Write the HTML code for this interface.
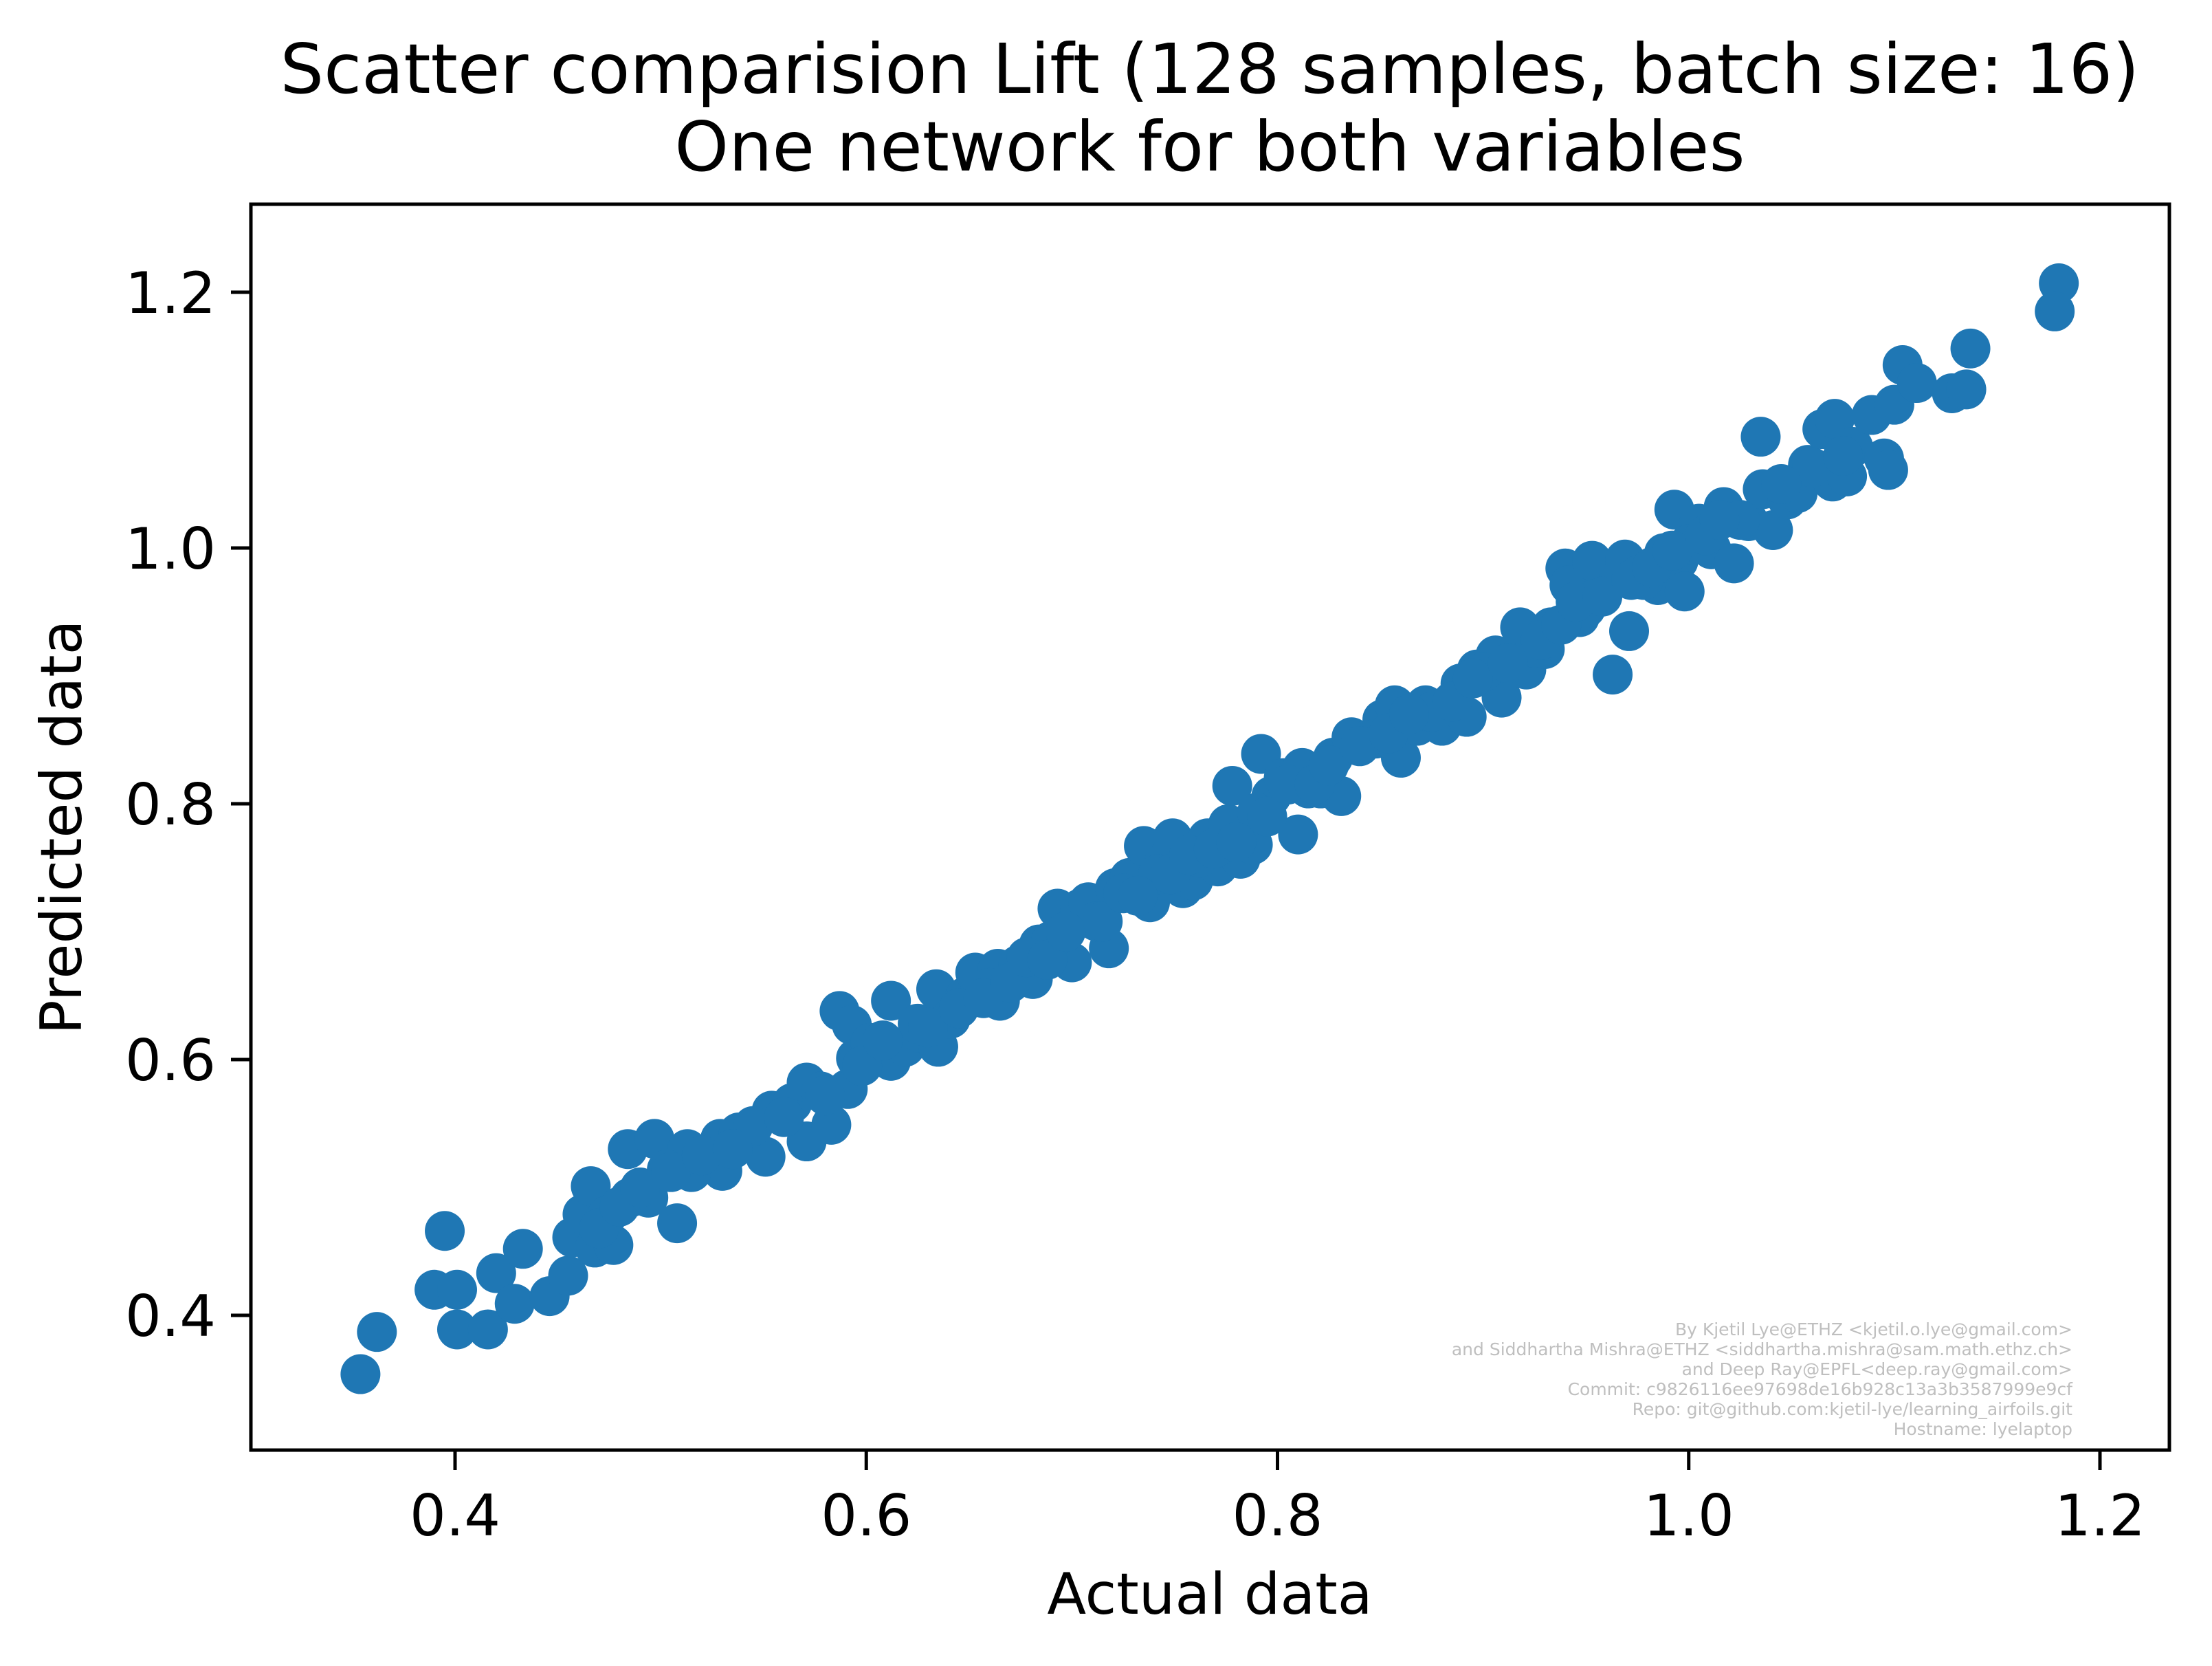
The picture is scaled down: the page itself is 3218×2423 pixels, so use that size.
<!DOCTYPE html>
<html><head><meta charset="utf-8"><style>
html,body{margin:0;padding:0;background:#fff;}
svg{display:block;font-family:"DejaVu Sans","Liberation Sans",sans-serif;}
</style></head><body>
<svg id="chart" width="3218" height="2423" viewBox="0 0 3218 2423" xmlns="http://www.w3.org/2000/svg">
<rect width="3218" height="2423" fill="#fff"/>
<text x="1760" y="135" font-size="100" text-anchor="middle">Scatter comparision Lift (128 samples, batch size: 16)</text>
<text x="1760" y="248" font-size="100" text-anchor="middle">One network for both variables</text>
<g id="marks"></g>
<g id="xticks"></g>
<g id="yticks"></g>
<rect x="365" y="297" width="2791" height="1812" fill="none" stroke="#000" stroke-width="5"/>
<text x="1760" y="2347" font-size="83" text-anchor="middle">Actual data</text>
<text transform="translate(118,1203) rotate(-90)" font-size="83" text-anchor="middle">Predicted data</text>
<g font-size="25" fill="#bfbfbf" text-anchor="end">
<text x="3015" y="1942">By Kjetil Lye@ETHZ &lt;kjetil.o.lye@gmail.com&gt;</text>
<text x="3015" y="1971">and Siddhartha Mishra@ETHZ &lt;siddhartha.mishra@sam.math.ethz.ch&gt;</text>
<text x="3015" y="2000">and Deep Ray@EPFL&lt;deep.ray@gmail.com&gt;</text>
<text x="3015" y="2029">Commit: c9826116ee97698de16b928c13a3b3587999e9cf</text>
<text x="3015" y="2058">Repo: git@github.com:kjetil-lye/learning_airfoils.git</text>
<text x="3015" y="2087">Hostname: lyelaptop</text>
</g>
</svg>
<script>
const actual = [0.354,0.362,0.395,0.390,0.401,0.401,0.416,0.420,0.433,0.429,0.446,0.455,0.457,0.462,0.466,0.468,0.477,0.484,0.485,0.497,0.494,0.508,0.513,0.503,0.523,0.530,0.529,0.538,0.551,0.554,0.564,0.571,0.571,0.583,0.587,0.593,0.591,0.595,0.602,0.612,0.612,0.619,0.626,0.634,0.635,0.641,0.648,0.653,0.664,0.665,0.674,0.681,0.684,0.693,0.700,0.704,0.708,0.718,0.721,0.728,0.735,0.738,0.745,0.749,0.754,0.759,0.766,0.771,0.776,0.778,0.782,0.788,0.792,0.797,0.803,0.810,0.812,0.821,0.827,0.831,0.836,0.844,0.851,0.857,0.860,0.868,0.872,0.880,0.889,0.892,0.897,0.906,0.909,0.918,0.921,0.930,0.933,0.940,0.942,0.947,0.953,0.954,0.963,0.966,0.969,0.971,0.976,0.985,0.988,0.995,0.993,0.998,1.005,1.011,1.017,1.022,1.029,1.036,1.041,1.048,1.035,1.053,1.058,1.065,1.070,1.071,1.077,1.080,1.089,1.095,1.097,1.100,1.104,1.111,1.128,1.135,1.137,1.180,1.178,0.474,0.515,0.545,0.578,0.625,0.660,0.690,0.712,0.742,0.762,0.790,0.815,0.848,0.875,0.900,0.925,0.950,0.978,1.000,1.025,1.060,
0.470,0.480,0.490,0.505,0.520,0.535,0.560,0.580,0.598,0.608,0.630,0.645,0.657,0.670,0.678,0.688,0.697,0.715,0.725,0.732,0.748,0.757,0.769,0.780,0.795,0.805,0.818,0.825,0.840,0.854,0.864,0.885,0.895,0.912,0.928,0.938,0.945,0.958,0.972,0.982,0.992,1.008,1.015,1.045,1.075];
const predicted = [0.354,0.387,0.466,0.420,0.420,0.389,0.389,0.433,0.452,0.409,0.415,0.431,0.461,0.479,0.501,0.453,0.455,0.530,0.492,0.538,0.492,0.472,0.530,0.514,0.519,0.513,0.538,0.543,0.524,0.560,0.566,0.536,0.582,0.549,0.638,0.627,0.577,0.601,0.613,0.646,0.599,0.610,0.621,0.655,0.610,0.632,0.649,0.668,0.671,0.646,0.674,0.663,0.690,0.718,0.676,0.718,0.723,0.687,0.734,0.742,0.767,0.723,0.754,0.773,0.734,0.740,0.773,0.751,0.784,0.814,0.757,0.768,0.839,0.806,0.820,0.776,0.828,0.812,0.836,0.806,0.852,0.850,0.866,0.877,0.836,0.861,0.877,0.861,0.894,0.868,0.905,0.916,0.883,0.938,0.905,0.921,0.938,0.984,0.971,0.946,0.990,0.960,0.901,0.977,0.991,0.935,0.979,0.971,0.996,0.990,1.030,0.966,1.019,0.999,1.032,0.988,1.021,1.046,1.014,1.038,1.087,1.043,1.065,1.093,1.052,1.101,1.056,1.079,1.104,1.070,1.061,1.112,1.143,1.129,1.121,1.124,1.156,1.207,1.185,0.478,0.512,0.548,0.575,0.628,0.656,0.693,0.708,0.745,0.758,0.793,0.812,0.851,0.872,0.903,0.922,0.953,0.975,1.003,1.022,1.063,
0.468,0.485,0.500,0.512,0.525,0.530,0.555,0.572,0.595,0.615,0.625,0.640,0.648,0.660,0.680,0.678,0.700,0.708,0.730,0.728,0.745,0.760,0.765,0.770,0.790,0.815,0.815,0.830,0.845,0.855,0.870,0.880,0.898,0.910,0.928,0.940,0.958,0.962,0.975,0.985,0.998,1.010,1.022,1.050,1.072];
const xTickValues = [0.4,0.6,0.8,1.0,1.2];
const xTickLabels = ["0.4","0.6","0.8","1.0","1.2"];
const yTickValues = [0.4,0.6,0.8,1.0,1.2];
const yTickLabels = ["0.4","0.6","0.8","1.0","1.2"];

const NS = "http://www.w3.org/2000/svg";
function xScale(v){ return 662 + (v - 0.4) * (3055 - 662) / 0.8; }
function yScale(v){ return 1913 - (v - 0.4) * (1913 - 425) / 0.8; }

const marks = document.getElementById('marks');
for (let i = 0; i < actual.length; i++) {
  const c = document.createElementNS(NS, 'circle');
  c.setAttribute('cx', xScale(actual[i]));
  c.setAttribute('cy', yScale(predicted[i]));
  c.setAttribute('r', 29);
  c.setAttribute('fill', '#1f77b4');
  
  
  marks.appendChild(c);
}
const xg = document.getElementById('xticks');
for (let i = 0; i < xTickValues.length; i++) {
  const x = xScale(xTickValues[i]);
  const l = document.createElementNS(NS, 'line');
  l.setAttribute('x1', x); l.setAttribute('x2', x);
  l.setAttribute('y1', 2109); l.setAttribute('y2', 2138);
  l.setAttribute('stroke', '#000'); l.setAttribute('stroke-width', 5);
  
  
  xg.appendChild(l);
  const t = document.createElementNS(NS, 'text');
  t.setAttribute('x', x); t.setAttribute('y', 2233);
  t.setAttribute('font-size', 83); t.setAttribute('text-anchor', 'middle');
  t.textContent = xTickLabels[i];
  
  
  xg.appendChild(t);
}
const yg = document.getElementById('yticks');
for (let i = 0; i < yTickValues.length; i++) {
  const y = yScale(yTickValues[i]);
  const l = document.createElementNS(NS, 'line');
  l.setAttribute('x1', 336); l.setAttribute('x2', 365);
  l.setAttribute('y1', y); l.setAttribute('y2', y);
  l.setAttribute('stroke', '#000'); l.setAttribute('stroke-width', 5);
  
  
  yg.appendChild(l);
  const t = document.createElementNS(NS, 'text');
  t.setAttribute('x', 314); t.setAttribute('y', y + 30);
  t.setAttribute('font-size', 83); t.setAttribute('text-anchor', 'end');
  t.textContent = yTickLabels[i];
  
  
  yg.appendChild(t);
}
</script>
</body></html>
